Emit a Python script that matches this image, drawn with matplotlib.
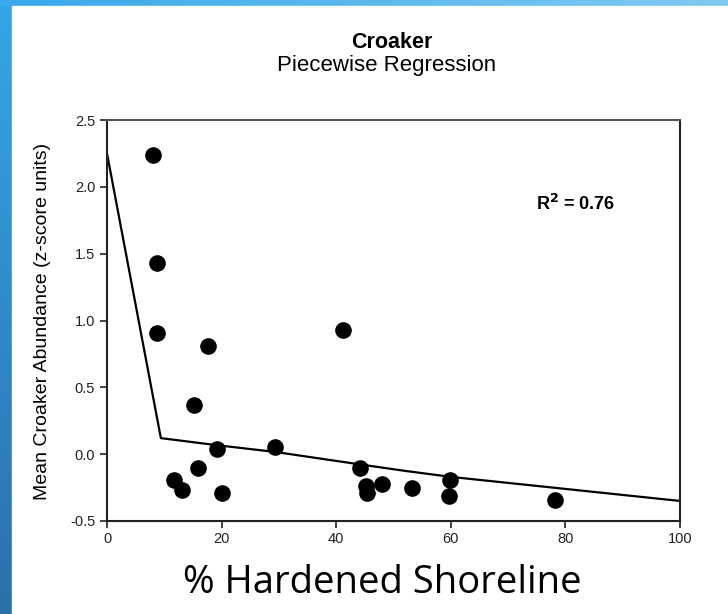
import numpy as np
import matplotlib.pyplot as plt
from matplotlib.patches import Rectangle
from matplotlib.colors import LinearSegmentedColormap

# % hardened shoreline vs mean croaker abundance (z-score units)
hardened = [8.0, 8.7, 8.7, 17.6, 15.2, 11.7, 13.1, 15.9, 19.2, 20.1,
            29.3, 41.2, 44.2, 45.2, 45.3, 48.0, 53.2, 59.9, 59.7, 78.2]
abundance = [2.24, 1.43, 0.91, 0.81, 0.37, -0.19, -0.27, -0.10, 0.04, -0.29,
             0.05, 0.93, -0.10, -0.24, -0.29, -0.22, -0.25, -0.19, -0.31, -0.34]

# fitted piecewise regression
fit_x = [0, 9.4, 19.2, 29.3, 44.2, 52, 60, 80, 100]
fit_y = [2.25, 0.12, 0.067, 0.017, -0.077, -0.125, -0.17, -0.26, -0.35]

x_ticks = [0, 20, 40, 60, 80, 100]
y_ticks = [-0.5, 0.0, 0.5, 1.0, 1.5, 2.0, 2.5]

plt.rcParams['font.family'] = ['Liberation Sans', 'DejaVu Sans']

fig = plt.figure(figsize=(7.28, 6.14), dpi=100)

# slide background: blue strips on the left and top, white panel
bg = fig.add_axes([0, 0, 1, 1], zorder=-10)
bg.set_axis_off()
left_cmap = LinearSegmentedColormap.from_list('left', ['#2c70ab', '#35a6e6'])
top_cmap = LinearSegmentedColormap.from_list('top', ['#38a9ea', '#5cb9ee', '#7fcaf2'])
bg.imshow(np.linspace(0, 1, 256).reshape(-1, 1), cmap=left_cmap, aspect='auto',
          extent=[0, 1, 0, 1], origin='lower')
bg.imshow(np.linspace(0, 1, 256).reshape(1, -1), cmap=top_cmap, aspect='auto',
          extent=[0, 1, 1 - 6 / 614, 1])
bg.add_patch(Rectangle((12 / 728, 0), 1, 1 - 6 / 614, color='white'))
bg.set_xlim(0, 1)
bg.set_ylim(0, 1)

ax = fig.add_axes([107 / 728, 1 - 521 / 614, 573 / 728, 401 / 614])
ax.plot(fit_x, fit_y, color='black', lw=1.6, zorder=2)
ax.scatter(hardened, abundance, s=120, color='black', zorder=3)

ax.set_xlim(0, 100)
ax.set_ylim(-0.5, 2.5)
ax.set_xticks(x_ticks)
ax.set_yticks(y_ticks)
ax.set_yticklabels([f'{v:.1f}' for v in y_ticks])
ax.tick_params(direction='out', length=5, width=1.2, labelsize=10.5, colors='#222222')
ax.tick_params(axis='x', pad=3)
for side in ['left', 'bottom', 'right']:
    ax.spines[side].set_linewidth(1.5)
    ax.spines[side].set_color('#222222')
ax.spines['top'].set_linewidth(1.5)
ax.spines['top'].set_color('#555555')

ax.set_ylabel('Mean Croaker Abundance (z-score units)', fontsize=14, va='center')
ax.yaxis.set_label_coords(-0.113, 0.497)
ax.text(0.749, 0.79, r'R$^\mathbf{2}$ = 0.76', transform=ax.transAxes,
        fontsize=13, fontweight='bold', ha='left', va='center')

fig.text(392 / 728, 1 - 42 / 614, 'Croaker', fontsize=15.5, fontweight='bold',
         ha='center', va='center')
fig.text(387 / 728, 1 - 65 / 614, 'Piecewise Regression', fontsize=16,
         ha='center', va='center')
fig.text(382 / 728, 1 - 583 / 614, '% Hardened Shoreline', fontsize=27.5,
         family=['Open Sans', 'DejaVu Sans'], ha='center', va='center')

fig.savefig('out.png', dpi=100)
